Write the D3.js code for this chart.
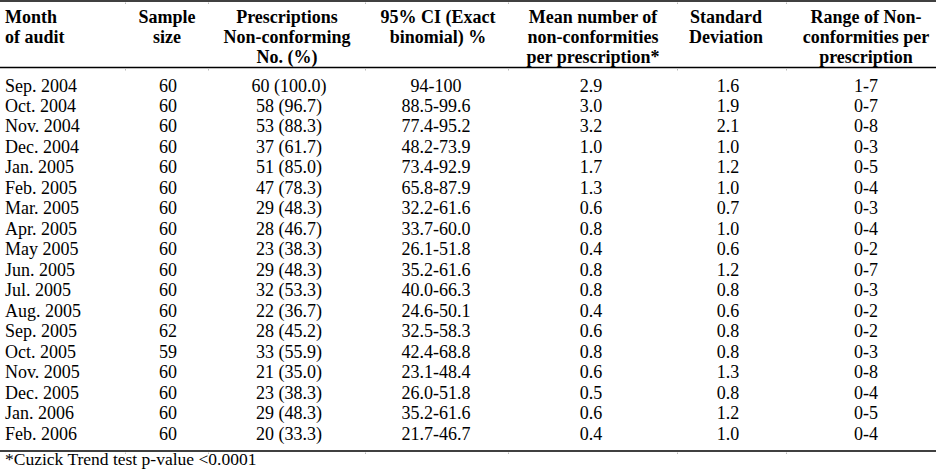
<!DOCTYPE html>
<html>
<head>
<meta charset="utf-8">
<script src="https://cdn.jsdelivr.net/npm/d3@7"></script>
<style>
  html, body { margin: 0; padding: 0; background: #fff; }
  svg { display: block; }
</style>
</head>
<body>
<svg id="chart" width="936" height="471"></svg>
<script>
// ---- data ----
const headers = [
  ["Month", "of audit"],
  ["Sample", "size"],
  ["Prescriptions", "Non-conforming", "No. (%)"],
  ["95% CI (Exact", "binomial) %"],
  ["Mean number of", "non-conformities", "per prescription*"],
  ["Standard", "Deviation"],
  ["Range of Non-", "conformities per", "prescription"]
];
const months = ["Sep. 2004","Oct. 2004","Nov. 2004","Dec. 2004","Jan. 2005","Feb. 2005","Mar. 2005","Apr. 2005","May 2005","Jun. 2005","Jul. 2005","Aug. 2005","Sep. 2005","Oct. 2005","Nov. 2005","Dec. 2005","Jan. 2006","Feb. 2006"];
const sampleSize = [60,60,60,60,60,60,60,60,60,60,60,60,62,59,60,60,60,60];
const nonConforming = ["60 (100.0)","58 (96.7)","53 (88.3)","37 (61.7)","51 (85.0)","47 (78.3)","29 (48.3)","28 (46.7)","23 (38.3)","29 (48.3)","32 (53.3)","22 (36.7)","28 (45.2)","33 (55.9)","21 (35.0)","23 (38.3)","29 (48.3)","20 (33.3)"];
const ci95 = ["94-100","88.5-99.6","77.4-95.2","48.2-73.9","73.4-92.9","65.8-87.9","32.2-61.6","33.7-60.0","26.1-51.8","35.2-61.6","40.0-66.3","24.6-50.1","32.5-58.3","42.4-68.8","23.1-48.4","26.0-51.8","35.2-61.6","21.7-46.7"];
const meanNC = ["2.9","3.0","3.2","1.0","1.7","1.3","0.6","0.8","0.4","0.8","0.8","0.4","0.6","0.8","0.6","0.5","0.6","0.4"];
const sdNC = ["1.6","1.9","2.1","1.0","1.2","1.0","0.7","1.0","0.6","1.2","0.8","0.6","0.8","0.8","1.3","0.8","1.2","1.0"];
const rangeNC = ["1-7","0-7","0-8","0-3","0-5","0-4","0-3","0-4","0-2","0-7","0-3","0-2","0-2","0-3","0-8","0-4","0-5","0-4"];
const footnote = "*Cuzick Trend test p-value <0.0001";

// ---- layout ----
const W = 936, H = 471;
const font = "'Liberation Serif', 'Times New Roman', serif";
const svg = d3.select("#chart");
svg.append("rect").attr("width", W).attr("height", H).attr("fill", "#fff");

const columns = [months, sampleSize, nonConforming, ci95, meanNC, sdNC, rangeNC];
const colX = [5, 168, 289, 436, 591, 728, 866];
const headColX = [5, 167, 287, 438, 593, 726, 866];
const colAnchor = ["start","middle","middle","middle","middle","middle","middle"];
const boundaries = [125, 208, 365, 508, 677, 786];

const y = d3.scaleLinear().domain([0, months.length - 1]).range([91.5, 439.5]);
const headY = d3.scaleLinear().domain([0, 2]).range([23, 63]);

// rules
const rules = [1, 67.5, 451];
svg.selectAll("line.rule").data(rules).join("line")
  .attr("class", "rule")
  .attr("x1", 0).attr("x2", W)
  .attr("y1", d => d).attr("y2", d => d)
  .attr("stroke", "#000").attr("stroke-width", 1.5);

// faint column-boundary marks under rules
rules.forEach(r => {
  svg.selectAll(null).data(boundaries).join("rect")
    .attr("x", d => d).attr("y", r + 1.5).attr("width", 1).attr("height", 1.5)
    .attr("fill", "#bbb");
});

// header
headers.forEach((lines, c) => {
  svg.append("g").selectAll("text").data(lines).join("text")
    .attr("x", headColX[c])
    .attr("y", (d, i) => headY(i))
    .attr("text-anchor", colAnchor[c])
    .attr("font-family", font)
    .attr("font-weight", "bold")
    .attr("font-size", 18)
    .attr("fill", "#000")
    .text(d => d);
});

// body
columns.forEach((col, c) => {
  svg.append("g").selectAll("text").data(col).join("text")
    .attr("x", colX[c])
    .attr("y", (d, i) => y(i))
    .attr("text-anchor", colAnchor[c])
    .attr("font-family", font)
    .attr("font-size", 18)
    .attr("fill", "#000")
    .text(d => d);
});

// footnote
svg.append("text")
  .attr("x", 5).attr("y", 465)
  .attr("font-family", font)
  .attr("font-size", 17.5)
  .attr("fill", "#000")
  .text(footnote);
</script>
</body>
</html>
